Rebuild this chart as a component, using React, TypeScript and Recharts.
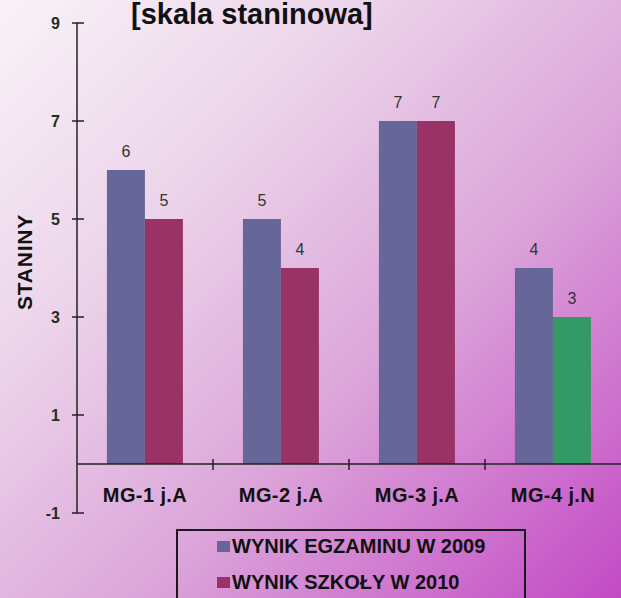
import React from 'react';
import { BarChart, Bar, XAxis, YAxis, Cell, LabelList, ReferenceLine, Legend } from 'recharts';

const categories = ['MG-1 j.A', 'MG-2 j.A', 'MG-3 j.A', 'MG-4 j.N'];
const exam2009 = [6, 5, 7, 4];
const school2010 = [5, 4, 7, 3];
const schoolColors = ['#993366', '#993366', '#993366', '#339966'];
const yTicks = [-1, 1, 3, 5, 7, 9];
const seriesNames = ['WYNIK EGZAMINU W 2009', 'WYNIK SZKOŁY W 2010'];
const title = '[skala staninowa]';
const yLabel = 'STANINY';

const data = categories.map((name, i) => ({ name, exam: exam2009[i], school: school2010[i] }));

const W = 621;
const H = 598;
const MARGIN = { top: 23, right: 0, bottom: 0, left: 0 };
const YAXIS_W = 77;
const XAXIS_H = 85;
const PLOT_H = H - MARGIN.top - MARGIN.bottom - XAXIS_H;
const UNIT = PLOT_H / (yTicks[yTicks.length - 1] - yTicks[0]);
const FONT = '"Liberation Sans", Arial, sans-serif';
const AXIS_COLOR = '#222';

const YTick = (props: any) => {
  const { x, y, payload } = props;
  return (
    <g>
      <line x1={x - 5} x2={x + 7} y1={y} y2={y} stroke={AXIS_COLOR} strokeWidth={1.5} />
      <text x={x - 17} y={y} dy="0.36em" textAnchor="end" fontFamily={FONT} fontWeight="bold" fontSize={16} fill="#1f2f1f">
        {payload.value}
      </text>
    </g>
  );
};

const XTick = (props: any) => {
  const { x, y, payload, index } = props;
  const zeroY = y - (0 - yTicks[0]) * UNIT;
  const half = payload.offset ?? (W - YAXIS_W) / categories.length / 2;
  return (
    <g>
      {index > 0 && (
        <line x1={x - half} x2={x - half} y1={zeroY - 5} y2={zeroY + 6} stroke={AXIS_COLOR} strokeWidth={1.5} />
      )}
      <text x={x} y={y - 11} textAnchor="middle" fontFamily={FONT} fontWeight="bold" fontSize={20} letterSpacing={0.4} fill="#111">
        {payload.value}
      </text>
    </g>
  );
};

const YLabel = (props: any) => {
  const vb = props.viewBox || { x: 0, y: MARGIN.top, width: YAXIS_W, height: PLOT_H };
  const cx = vb.x + 24;
  const cy = vb.y + vb.height / 2 - 6;
  return (
    <text
      x={cx}
      y={cy}
      transform={`rotate(-90, ${cx}, ${cy})`}
      textAnchor="middle"
      dominantBaseline="central"
      fontFamily={FONT}
      fontWeight="bold"
      fontSize={21}
      letterSpacing={0.8}
      fill="#111"
    >
      {yLabel}
    </text>
  );
};

const LegendContent = (props: any) => {
  const payload = props.payload || [];
  return (
    <div style={{ paddingLeft: 39, marginTop: -3 }}>
      {payload.map((e: any, i: number) => (
        <div
          key={i}
          style={{
            display: 'flex',
            alignItems: 'center',
            height: 36,
            fontFamily: FONT,
            fontWeight: 'bold',
            fontSize: 20,
            color: '#111',
            whiteSpace: 'nowrap',
          }}
        >
          <span style={{ display: 'inline-block', width: 13, height: 11, background: e.color, marginRight: 2 }} />
          {e.value}
        </div>
      ))}
    </div>
  );
};

export default function App() {
  return (
    <div
      style={{
        position: 'absolute',
        left: 0,
        top: 0,
        width: W,
        height: H,
        overflow: 'hidden',
        background: 'linear-gradient(135deg, #f9f3f8 0%, #ecd4ea 30%, #dca6da 60%, #c34ac5 100%)',
      }}
    >
      <div
        style={{
          position: 'absolute',
          left: 131,
          top: 0,
          fontFamily: FONT,
          fontWeight: 'bold',
          fontSize: 29,
          lineHeight: 1,
          color: '#111',
          whiteSpace: 'nowrap',
        }}
      >
        {title}
      </div>
      <BarChart width={W} height={H} data={data} margin={MARGIN} barCategoryGap="22%" barGap={0}>
        <XAxis
          dataKey="name"
          height={XAXIS_H}
          axisLine={false}
          tickLine={false}
          tickSize={0}
          tickMargin={0}
          tick={<XTick />}
          interval={0}
        />
        <YAxis
          width={YAXIS_W}
          domain={[yTicks[0], yTicks[yTicks.length - 1]]}
          ticks={yTicks}
          interval={0}
          axisLine={{ stroke: AXIS_COLOR, strokeWidth: 1.5 }}
          tickLine={false}
          tickSize={0}
          tickMargin={0}
          tick={<YTick />}
          label={<YLabel />}
        />
        <ReferenceLine y={0} stroke={AXIS_COLOR} strokeWidth={1.5} />
        <Legend
          layout="vertical"
          align="center"
          verticalAlign="middle"
          content={<LegendContent />}
          wrapperStyle={{
            left: 176,
            top: 529,
            width: 350,
            height: 90,
            border: '2px solid #1a1a1a',
            boxSizing: 'border-box',
          }}
        />
        <Bar dataKey="exam" name={seriesNames[0]} fill="#666699" isAnimationActive={false}>
          <LabelList dataKey="exam" position="top" offset={13} fill="#333" fontSize={16} fontFamily={FONT} />
        </Bar>
        <Bar dataKey="school" name={seriesNames[1]} fill="#993366" isAnimationActive={false}>
          {data.map((d, i) => (
            <Cell key={d.name} fill={schoolColors[i]} />
          ))}
          <LabelList dataKey="school" position="top" offset={13} fill="#333" fontSize={16} fontFamily={FONT} />
        </Bar>
      </BarChart>
    </div>
  );
}
